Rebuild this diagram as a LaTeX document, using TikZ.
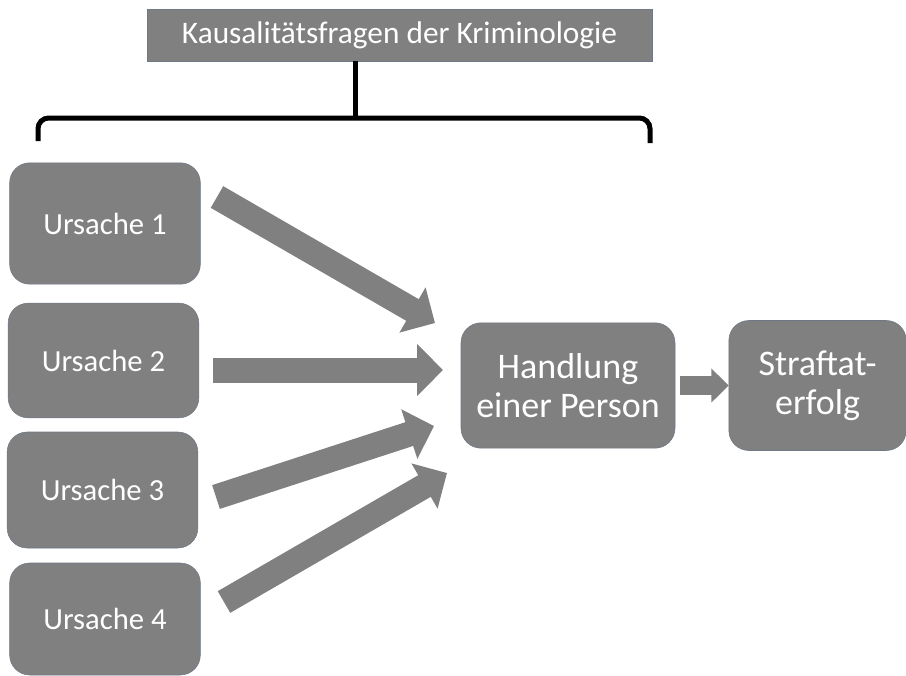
\documentclass[tikz,border=0pt]{standalone}
\usepackage{fontspec}
\setmainfont{Carlito}
\usetikzlibrary{arrows.meta,positioning}

\definecolor{boxgray}{RGB}{128,128,128}
\definecolor{edgegray}{RGB}{110,120,134}

\begin{document}
\begin{tikzpicture}[x=0.75pt,y=-0.75pt,
        box/.style={draw=edgegray,fill=boxgray,text=white,rounded corners=15pt,
          inner sep=0pt,align=center},
        cause/.style={box,minimum width=143pt,minimum height=88pt,
          font=\fontsize{23}{27}\selectfont},
        result/.style={box,font=\fontsize{27}{29}\selectfont},
        bigarrow/.style={draw=boxgray,line width=18.75pt,
          -{Triangle[length=19.5pt,width=38pt]}},
        smallarrow/.style={draw=boxgray,line width=14pt,
          -{Triangle[length=13pt,width=25pt]}},
        brace/.style={draw=black,line width=3.75pt,rounded corners=8pt}]

  \useasboundingbox (0,0) rectangle (906,675);

  \node[box,rounded corners=0pt,minimum width=379pt,minimum height=39pt,
    font=\fontsize{23.5}{27}\selectfont] (topic) at (399.5,35)
    {Kausalitätsfragen der Kriminologie};

  \node[cause,minimum height=91pt] (u_1) at (105,223.5) {Ursache 1};
  \node[cause,minimum height=86pt] (u_2) at (103.5,360.5) {Ursache 2};
  \node[cause,minimum height=87pt] (u_3) at (102.5,490) {Ursache 3};
  \node[cause,minimum height=84pt] (u_4) at (105,619) {Ursache 4};

  \node[result,minimum width=160.5pt,minimum height=94pt] (act) at (568,385.5)
    {Handlung\\einer Person};
  \node[result,minimum width=133pt,minimum height=97.5pt] (crime) [right=40pt of act]
    {Straftat-\\erfolg};

  % brace under the title
  \coordinate (b_l) at (38,141);
  \coordinate (b_r) at (650,143);
  \coordinate (b_m) at (355,118);
  \path[brace] (b_l) |- (b_m) -| (b_r);
  \path[brace,rounded corners=0pt] (b_m) -- (b_m |- topic.south);

  % arrow ends
  \coordinate (s_1) at (217,197);  \coordinate (e_1) at (435,323);
  \coordinate (s_2) at (213,370);  \coordinate (e_2) at (443,370);
  \coordinate (s_3) at (216,497);  \coordinate (e_3) at (434,426);
  \coordinate (s_4) at (224,602);  \coordinate (e_4) at (447,473);

  \path (s_1) edge[bigarrow] (e_1)
        (s_2) edge[bigarrow] (e_2)
        (s_3) edge[bigarrow] (e_3)
        (s_4) edge[bigarrow] (e_4)
        (act) edge[smallarrow,shorten <=3.5pt] (crime);

\end{tikzpicture}
\end{document}
